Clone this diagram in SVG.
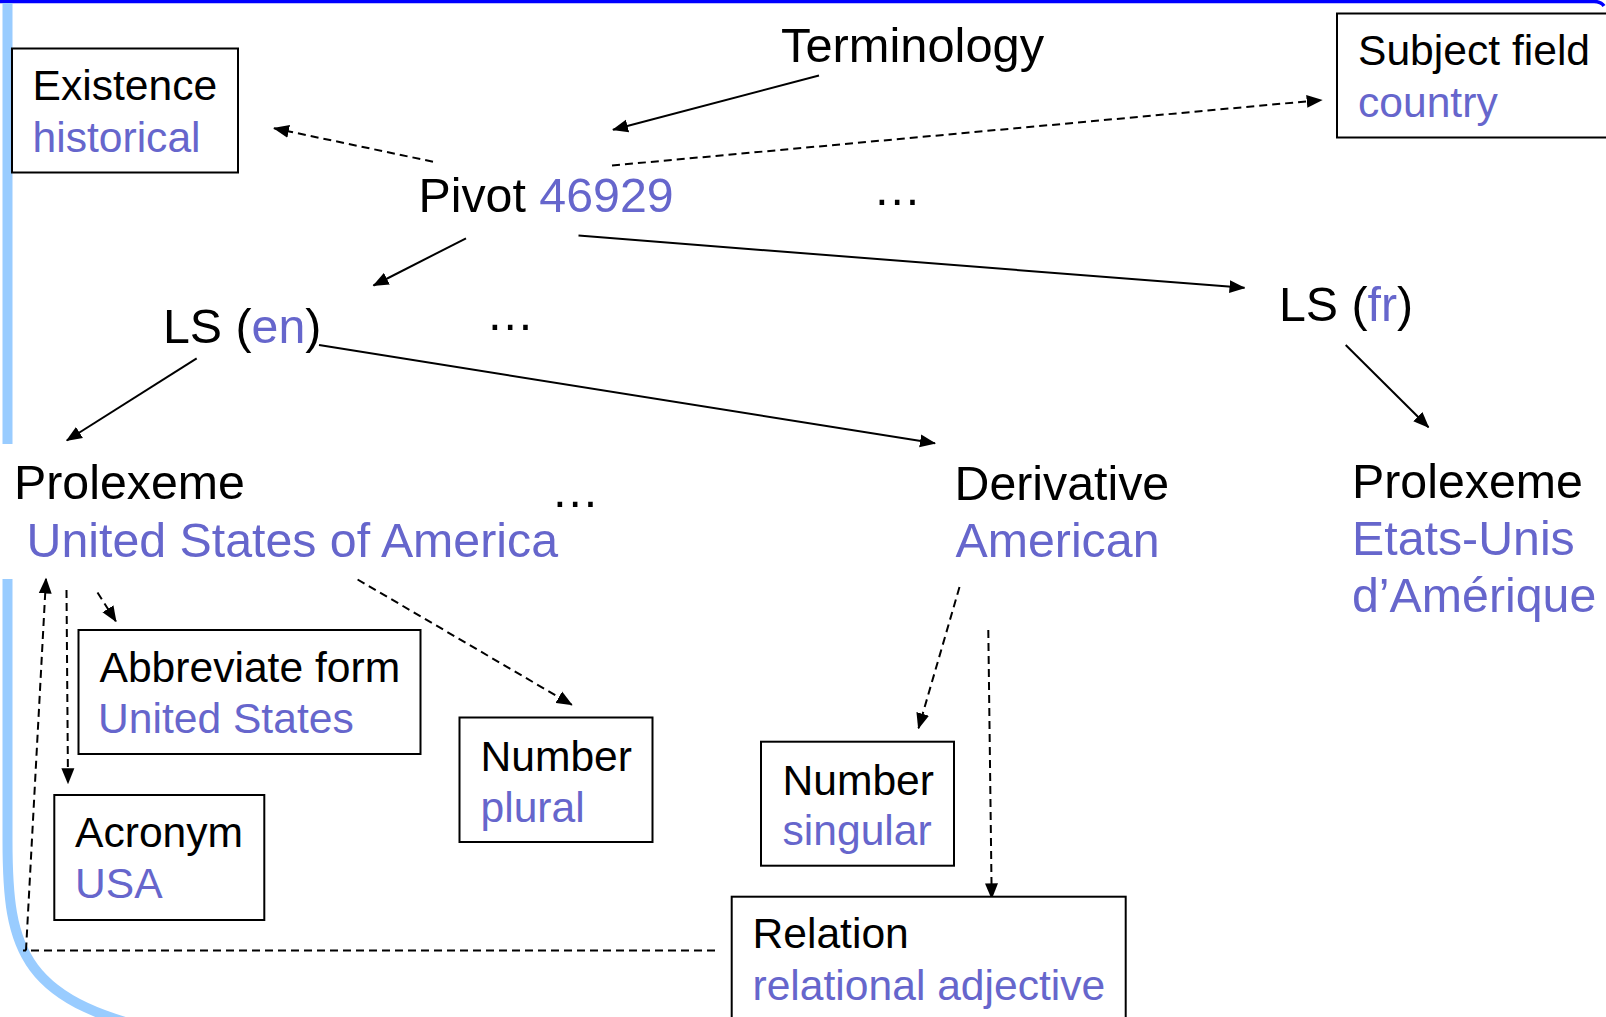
<svg xmlns="http://www.w3.org/2000/svg" width="1606" height="1017" viewBox="0 0 1606 1017">
  <defs>
    <style>
      .t { font-family: "Liberation Sans", Arial, sans-serif; fill: #000; }
      .big { font-size: 48.3px; }
      .box-t { font-size: 42.6px; }
      .v { fill: #6666CC; }
      .box { fill: #fff; stroke: #000; stroke-width: 2; }
      .solid { fill: none; stroke: #000; stroke-width: 2; marker-end: url(#arrow); }
      .dash { fill: none; stroke: #000; stroke-width: 2; stroke-dasharray: 8 5; marker-end: url(#arrow); }
    </style>
    <marker id="arrow" markerUnits="userSpaceOnUse" markerWidth="16" markerHeight="14" viewBox="0 0 16 14" refX="15" refY="7" orient="auto">
      <path d="M0,0.5 L16,7 L0,13.5 z" fill="#000"/>
    </marker>
  </defs>

  <rect width="1606" height="1017" fill="#fff"/>

  <!-- slide frame: top rule and left light-blue band -->
  <g id="frame">
    <path d="M0,1.5 L1594,1.5 Q1601,1.5 1604,6" fill="none" stroke="#0000FF" stroke-width="3.5"/>
    <rect x="2.5" y="3" width="10" height="441" fill="#99CCFF"/>
    <path d="M7.5,579 L7.5,840 C7.5,950 20,1005 180,1035" fill="none" stroke="#99CCFF" stroke-width="10"/>
  </g>

  <!-- connectors -->
  <g id="connectors">
    <line class="solid" x1="819" y1="75.5" x2="613" y2="129.8"/>
    <line class="solid" x1="466" y1="238.3" x2="373.5" y2="285.5"/>
    <line class="solid" x1="578.5" y1="235.6" x2="1244.5" y2="287.8"/>
    <line class="solid" x1="196.7" y1="358.3" x2="66.8" y2="440.5"/>
    <line class="solid" x1="319" y1="345" x2="935" y2="443.3"/>
    <line class="solid" x1="1345.7" y1="345" x2="1428.5" y2="427.2"/>

    <line class="dash" x1="433" y1="161.7" x2="274" y2="128.3"/>
    <line class="dash" x1="612" y1="165.5" x2="1321.7" y2="100"/>
    <line class="dash" x1="97.5" y1="592.5" x2="116" y2="621.5"/>
    <line class="dash" x1="66.5" y1="590" x2="68" y2="783.3"/>
    <path class="dash" d="M715,950.5 L23,950.5 M26,950.5 L46,578.5"/>
    <line class="dash" x1="357.6" y1="579.5" x2="571.8" y2="704.8"/>
    <line class="dash" x1="959.5" y1="587" x2="918.5" y2="728.3"/>
    <line class="dash" x1="988.3" y1="630" x2="991.7" y2="898.3"/>
  </g>

  <!-- free-standing nodes -->
  <g id="terminology">
    <text class="t big" x="781" y="62" style="font-size:48.8px">Terminology</text>
  </g>
  <g id="pivot">
    <text class="t big" x="418.5" y="211.7">Pivot <tspan class="v">46929</tspan></text>
  </g>
  <g id="ellipsis-pivot">
    <text class="t big" x="873" y="205">…</text>
  </g>
  <g id="ls-en">
    <text class="t big" x="163" y="342.7">LS (<tspan class="v">en</tspan>)</text>
  </g>
  <g id="ellipsis-ls">
    <text class="t big" x="486" y="329.5">…</text>
  </g>
  <g id="ls-fr">
    <text class="t big" x="1279" y="320.7">LS (<tspan class="v">fr</tspan>)</text>
  </g>
  <g id="prolexeme-en">
    <text class="t big" x="14" y="499.3">Prolexeme</text>
    <text class="t big v" x="26.5" y="556.7">United States of America</text>
  </g>
  <g id="ellipsis-prolexeme">
    <text class="t big" x="551" y="507">…</text>
  </g>
  <g id="derivative">
    <text class="t big" x="954.5" y="500">Derivative</text>
    <text class="t big v" x="955.5" y="557.3">American</text>
  </g>
  <g id="prolexeme-fr">
    <text class="t big" x="1352" y="498.3">Prolexeme</text>
    <text class="t big v" x="1352" y="555">Etats-Unis</text>
    <text class="t big v" x="1352" y="611.7">d’Amérique</text>
  </g>

  <!-- boxed attribute nodes -->
  <g id="existence">
    <rect class="box" x="12" y="48.5" width="226" height="124"/>
    <text class="t box-t" x="32.5" y="100">Existence</text>
    <text class="t box-t v" x="32.5" y="151.7">historical</text>
  </g>
  <g id="subject-field">
    <rect class="box" x="1337" y="13.5" width="300" height="124"/>
    <text class="t box-t" x="1358" y="65">Subject field</text>
    <text class="t box-t v" x="1358" y="117">country</text>
  </g>
  <g id="abbreviate-form">
    <rect class="box" x="78.5" y="630" width="342" height="124"/>
    <text class="t box-t" x="99.5" y="681.7">Abbreviate form</text>
    <text class="t box-t v" x="98" y="733.3">United States</text>
  </g>
  <g id="number-plural">
    <rect class="box" x="459.5" y="717.5" width="193" height="124.5"/>
    <text class="t box-t" x="480.5" y="770.7">Number</text>
    <text class="t box-t v" x="480.5" y="821.7">plural</text>
  </g>
  <g id="acronym">
    <rect class="box" x="54.3" y="795" width="210" height="125"/>
    <text class="t box-t" x="75" y="847.3">Acronym</text>
    <text class="t box-t v" x="75" y="898.3">USA</text>
  </g>
  <g id="number-singular">
    <rect class="box" x="761" y="741.7" width="193" height="124"/>
    <text class="t box-t" x="782.5" y="795">Number</text>
    <text class="t box-t v" x="782.5" y="845">singular</text>
  </g>
  <g id="relation">
    <rect class="box" x="731.7" y="896.7" width="394" height="140"/>
    <text class="t box-t" x="752.5" y="948.3">Relation</text>
    <text class="t box-t v" x="752.5" y="1000">relational adjective</text>
  </g>
</svg>
